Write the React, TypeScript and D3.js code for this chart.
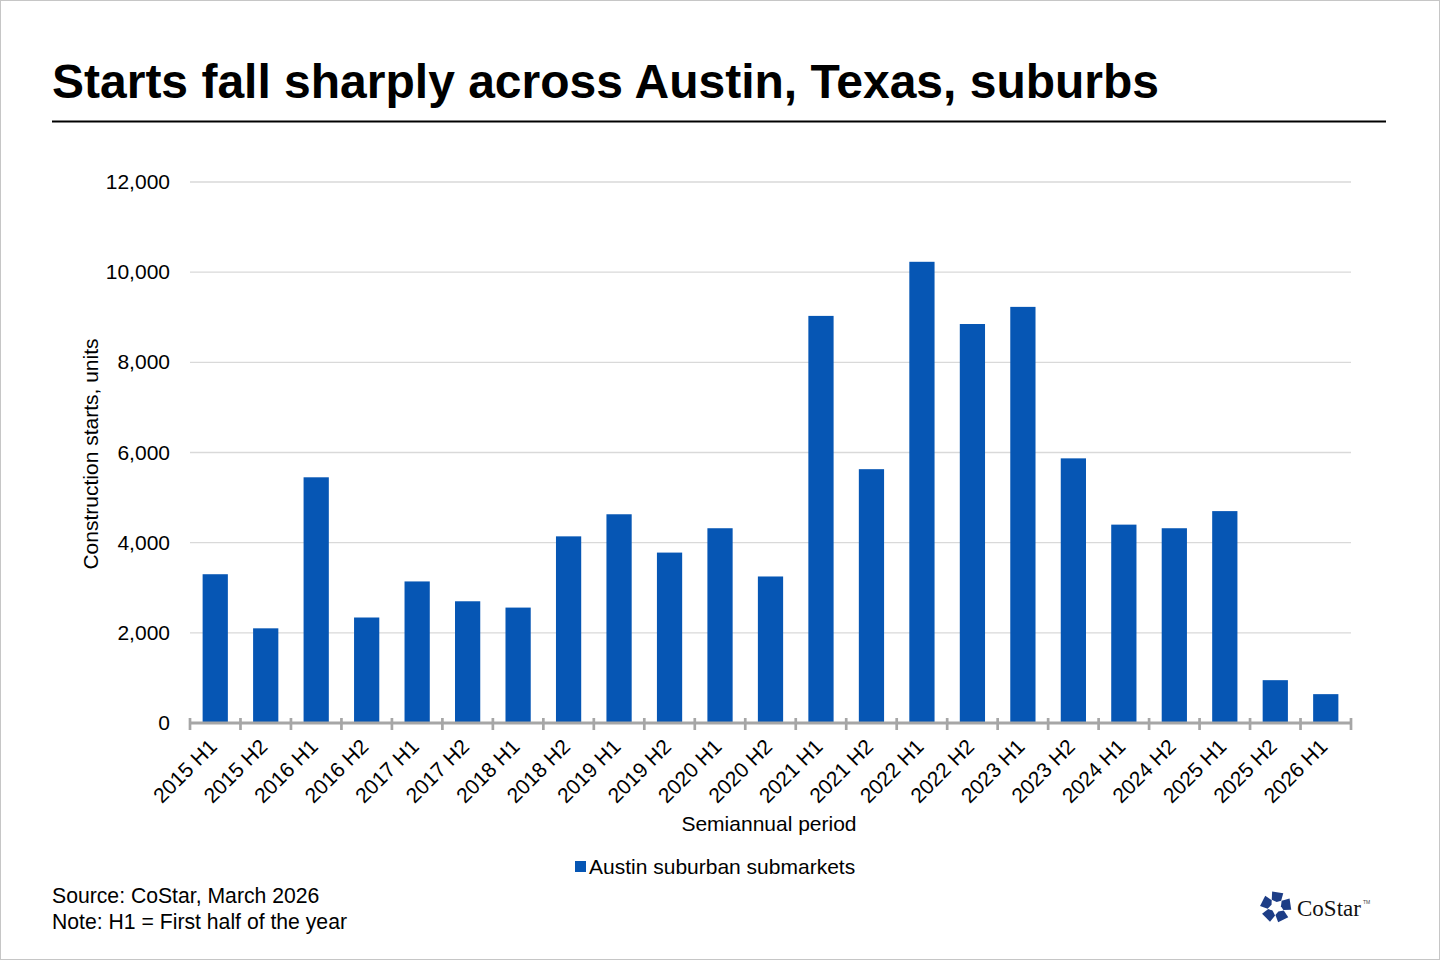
import * as d3 from 'd3'
import { type ReactElement } from 'react'

// semiannual construction starts
const periods = [
  '2015 H1', '2015 H2', '2016 H1', '2016 H2', '2017 H1', '2017 H2',
  '2018 H1', '2018 H2', '2019 H1', '2019 H2', '2020 H1', '2020 H2',
  '2021 H1', '2021 H2', '2022 H1', '2022 H2', '2023 H1', '2023 H2',
  '2024 H1', '2024 H2', '2025 H1', '2025 H2', '2026 H1',
]

const starts = [
  3300, 2100, 5450, 2340, 3140, 2700,
  2560, 4140, 4630, 3780, 4320, 3250,
  9030, 5630, 10230, 8850, 9230, 5870,
  4400, 4320, 4700, 950, 640,
]

const yTicks = [0, 2000, 4000, 6000, 8000, 10000, 12000]

const title = 'Starts fall sharply across Austin, Texas, suburbs'
const seriesName = 'Austin suburban submarkets'
const xTitle = 'Semiannual period'
const yTitle = 'Construction starts, units'
const footnotes = ['Source: CoStar, March 2026', 'Note: H1 = First half of the year']

const width = 1440
const height = 960
const plot = { left: 190, right: 1351, top: 182, bottom: 723 }
const barColor = '#0656b4'
const font = '"Liberation Sans", Arial, sans-serif'

function CoStarLogo({ cx, cy }: { cx: number; cy: number }): ReactElement {
  const pt = (r: number, deg: number) => {
    const a = ((deg - 90) * Math.PI) / 180
    return [cx + r * Math.cos(a), cy + r * Math.sin(a)]
  }
  // five chunky pieces around a star-shaped hole
  const pieces = d3.range(5).map((i) => {
    const a = i * 72
    return [pt(16, a - 14), pt(15.5, a + 28), pt(8, a + 40), pt(5, a + 8), pt(8.5, a - 30)]
  })
  return (
    <g>
      {pieces.map((p, i) => (
        <polygon key={i} points={p.map((d) => d.join(',')).join(' ')} fill="#1d3d86" />
      ))}
      <text x={cx + 21} y={cy + 9} fontFamily='"Liberation Serif", "Times New Roman", serif' fontSize={23} fill="#111">
        CoStar
      </text>
      <text x={cx + 87} y={cy - 3} fontFamily={font} fontSize={5} fill="#444">
        TM
      </text>
    </g>
  )
}

export default function App(): ReactElement {
  const x = d3
    .scaleBand<string>()
    .domain(periods)
    .range([plot.left, plot.right])
    .paddingInner(0.5)
    .paddingOuter(0.25)
  const y = d3.scaleLinear().domain([0, 12000]).range([plot.bottom, plot.top])
  const fmt = d3.format(',')
  const step = x.step()
  const boundaries = d3.range(periods.length + 1).map((i) => plot.left + i * step)

  return (
    <svg
      width={width}
      height={height}
      style={{ position: 'absolute', left: 0, top: 0, background: '#fff' }}
      fontFamily={font}
    >
      <rect x={0.5} y={0.5} width={width - 1} height={height - 1} fill="#fff" stroke="#c6c6c6" />

      <text x={52} y={98} fontSize={48} fontWeight="bold" fill="#000">
        {title}
      </text>
      <line x1={52} x2={1386} y1={121.5} y2={121.5} stroke="#000" strokeWidth={2} />

      {yTicks.map((t) => (
        <g key={t}>
          {t > 0 && (
            <line x1={plot.left} x2={plot.right} y1={y(t)} y2={y(t)} stroke="#d9d9d9" strokeWidth={1.3} />
          )}
          <text x={170} y={y(t) + 7} textAnchor="end" fontSize={21} fill="#000">
            {fmt(t)}
          </text>
        </g>
      ))}

      {periods.map((p, i) => (
        <rect
          key={p}
          x={x(p)}
          y={y(starts[i])}
          width={x.bandwidth()}
          height={y(0) - y(starts[i])}
          fill={barColor}
        />
      ))}

      <line x1={plot.left} x2={plot.right} y1={y(0)} y2={y(0)} stroke="#a6a6a6" strokeWidth={3} />
      {boundaries.map((bx, i) => (
        <line key={i} x1={bx} x2={bx} y1={y(0) - 5} y2={y(0) + 7} stroke="#a6a6a6" strokeWidth={2.7} />
      ))}

      {periods.map((p) => {
        const cx = (x(p) ?? 0) + x.bandwidth() / 2
        return (
          <text
            key={p}
            transform={`translate(${cx + 3},${y(0) + 25}) rotate(-45)`}
            textAnchor="end"
            fontSize={21}
            fill="#000"
          >
            {p}
          </text>
        )
      })}

      <text x={769} y={831} textAnchor="middle" fontSize={21} fill="#000">
        {xTitle}
      </text>
      <text transform={`translate(98,454) rotate(-90)`} textAnchor="middle" fontSize={21} fill="#000">
        {yTitle}
      </text>

      <rect x={575} y={861} width={11} height={11} fill={barColor} />
      <text x={589} y={874} fontSize={21} fill="#000">
        {seriesName}
      </text>

      {footnotes.map((f, i) => (
        <text key={f} x={52} y={903 + i * 26} fontSize={21.2} fill="#000">
          {f}
        </text>
      ))}

      <CoStarLogo cx={1276} cy={907} />
    </svg>
  )
}
